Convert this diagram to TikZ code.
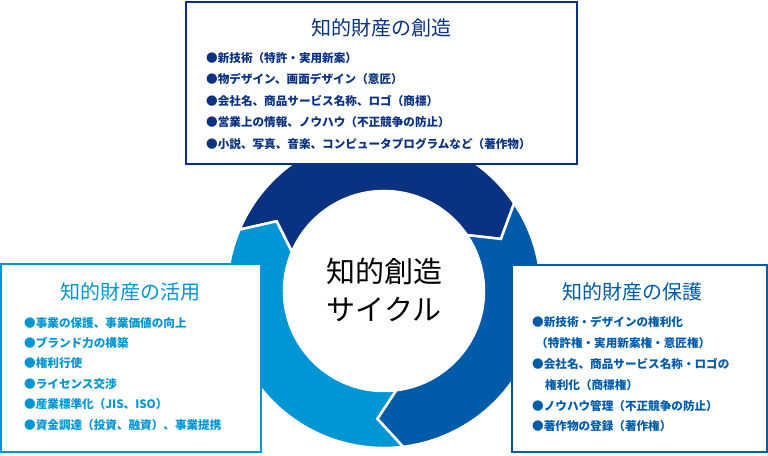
\documentclass[tikz,border=0pt]{standalone}
\usepackage{fontspec}
\setmainfont{Noto Sans CJK JP}
\definecolor{navy}{HTML}{0A3282}
\definecolor{midb}{HTML}{005BAA}
\definecolor{lightb}{HTML}{0096D6}
\newcommand\ringseg[3]{%
\fill[#3, draw=white, line width=2.5pt, line join=miter] (#1:157) arc[start angle=#1, end angle=#2, radius=157] -- ({#2-10}:128) -- (#2:100) arc[start angle=#2, end angle=#1, radius=100] -- ({#1-10}:128) -- cycle;}
\tikzset{
 box/.style={draw=#1, fill=white, line width=1.2pt},
 title/.style={text=#1, font=\fontsize{20}{22}\selectfont, inner sep=0pt},
 item/.style={text=#1, anchor=west, inner sep=0pt, font=\bfseries\fontsize{11.6}{13}\selectfont},
 ctext/.style={font=\fontsize{29}{38}\selectfont, align=center, text=black}
}
\begin{document}
\begin{tikzpicture}[x=1pt,y=1pt]
\useasboundingbox (0,0) rectangle (768,455);
\begin{scope}[shift={(384,164)}]
\ringseg{157}{34}{navy}
\ringseg{34}{-83}{midb}
\ringseg{-83}{-203}{lightb}
\end{scope}
\node[ctext] (c) at (384,165) {知的創造\\サイクル};
% top box
\draw[box=navy] (186,291) rectangle (577,453);
\node[title=navy] (t1) at (381,427) {知的財産の創造};
\node[item=navy] (a1) at (206,397) {●新技術（特許・実用新案）};
\node[item=navy] (a2) at (206,375.5) {●物デザイン、画面デザイン（意匠）};
\node[item=navy] (a3) at (206,354) {●会社名、商品サービス名称、ロゴ（商標）};
\node[item=navy] (a4) at (206,332.5) {●営業上の情報、ノウハウ（不正競争の防止）};
\node[item=navy] (a5) at (206,311) {●小説、写真、音楽、コンピュータプログラムなど（著作物）};
% left box
\draw[box=lightb] (1,3) rectangle (261,191);
\node[title=lightb] (t2) at (130,163) {知的財産の活用};
\node[item=lightb] (b1) at (24,132) {●事業の保護、事業価値の向上};
\node[item=lightb] (b2) at (24,112) {●ブランド力の構築};
\node[item=lightb] (b3) at (24,91.5) {●権利行使};
\node[item=lightb] (b4) at (24,71) {●ライセンス交渉};
\node[item=lightb] (b5) at (24,50.5) {●産業標準化（JIS、ISO）};
\node[item=lightb] (b6) at (24,30) {●資金調達（投資、融資）、事業提携};
% right box
\draw[box=midb] (512,3) rectangle (767,190);
\node[title=midb] (t3) at (632,163) {知的財産の保護};
\node[item=midb] (r1) at (532,133) {●新技術・デザインの権利化};
\node[item=midb] (r2) at (536,112) {（特許権・実用新案権・意匠権）};
\node[item=midb] (r3) at (532,91) {●会社名、商品サービス名称・ロゴの};
\node[item=midb] (r4) at (545,70) {権利化（商標権）};
\node[item=midb] (r5) at (532,49) {●ノウハウ管理（不正競争の防止）};
\node[item=midb] (r6) at (532,28.5) {●著作物の登録（著作権）};
\end{tikzpicture}
\end{document}
